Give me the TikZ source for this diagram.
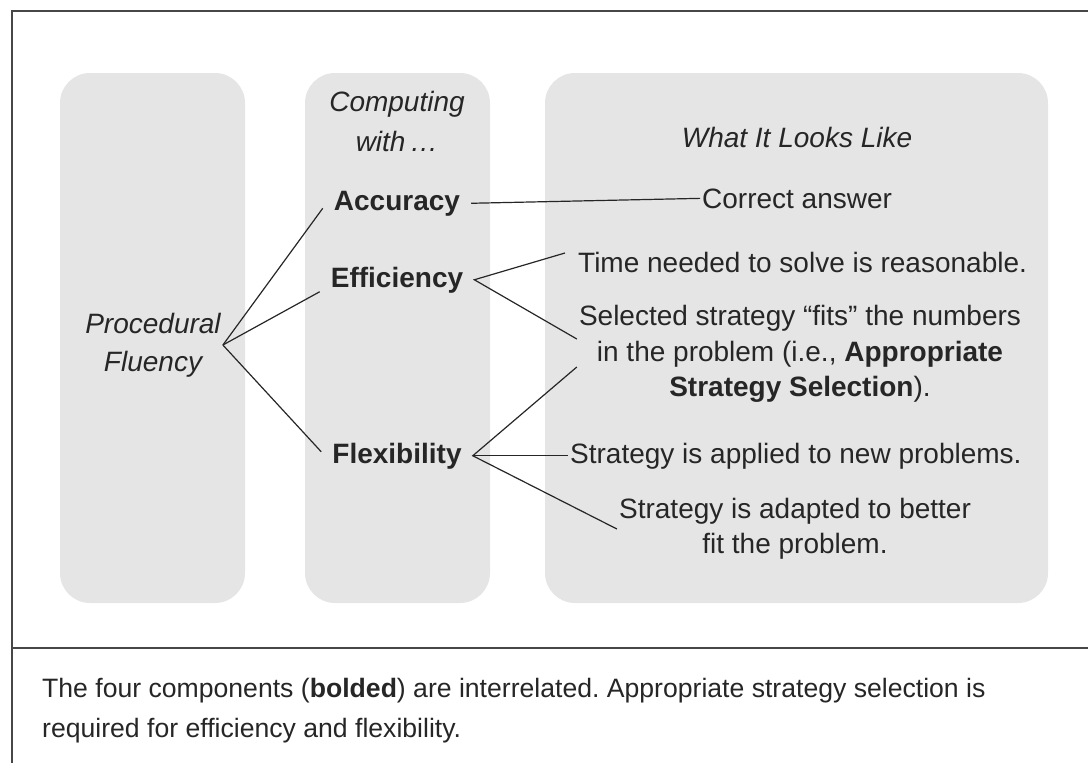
\documentclass[tikz,border=0pt]{standalone}
\usepackage{fontspec}
\setmainfont{Liberation Sans}
\usepackage{xcolor}
\usetikzlibrary{positioning}
\definecolor{panel}{HTML}{E5E5E5}
\definecolor{ink}{HTML}{262626}
\frenchspacing

\begin{document}
\begin{tikzpicture}[x=1pt, y=-1pt,
	every node/.style={text=ink, font=\fontsize{28}{35.5}\selectfont},
	part/.style={font=\fontsize{28}{35.5}\selectfont\bfseries, anchor=base, inner xsep=11pt, inner ysep=0pt},
	look/.style={anchor=base west, inner ysep=0pt},
	link/.style={ink, line width=1.2pt}]
	\useasboundingbox (0,0) rectangle (1088,763);
	% рамка
	\draw [ink!85, line width=2pt] (12,763) -- (12,11) -- (1088,11);
	\draw [ink!85, line width=2pt] (12,648) -- (1088,648);
	% панели
	\fill [panel, rounded corners=30pt] (60,73) rectangle (245,603);
	\fill [panel, rounded corners=30pt] (305,73) rectangle (490,603);
	\fill [panel, rounded corners=30pt] (545,73) rectangle (1048,603);
	% заголовки
	\node (pf) [align=center, inner sep=2pt, font=\fontsize{28}{38}\selectfont] at (153,345) {\itshape Procedural\\\itshape Fluency};
	\node (cw) [align=center, font=\fontsize{28}{40}\selectfont] at (397,121) {\itshape Computing\\\itshape with\,…};
	\node (wl) [anchor=base] at (797,147) {\itshape What It Looks Like};
	% компоненты
	\node (acc) [part] at (397,210) {Accuracy};
	\node (eff) [part] at (397,287) {Efficiency};
	\node (flx) [part] at (397,463) {Flexibility};
	% описания
	\node (ca) [look, inner xsep=2pt] at (700,208) {Correct answer};
	\node (tm) [look, inner xsep=13pt] at (565,272) {Time needed to solve is reasonable.};
	\node (sel) [align=center, inner sep=2pt] at (800,354) {Selected strategy “fits” the numbers\\in the problem (i.e., \textbf{Appropriate}\\\textbf{Strategy Selection}).};
	\node (app) [look, inner xsep=2pt] at (568,463) {Strategy is applied to new problems.};
	\node (ada) [align=center, inner sep=2pt] at (795,529) {Strategy is adapted to better\\fit the problem.};
	% линии
	\draw [link] (pf.east) -- ([yshift=-5pt]acc.west);
	\draw [link] (pf.east) -- ([yshift=-12pt]eff.west);
	\draw [link] (pf.east) -- ([yshift=4pt]flx.west);
	\draw [link] (acc.east) -- (ca.west);
	\draw [link] ([yshift=9pt]tm.west) -- (eff.east) -- ([yshift=15pt]sel.west);
	\draw [link] ([yshift=-13pt]sel.west) -- (flx.east) -- (ada.west);
	\draw [link] (flx.east) -- (app.west);
	% подпись
	\node (note) [anchor=north west, align=left, inner sep=0pt, font=\fontsize{26.6}{40}\selectfont] at (42,678)
		{The four components (\textbf{bolded}) are interrelated. Appropriate strategy selection is\\required for efficiency and flexibility.};
\end{tikzpicture}
\end{document}
